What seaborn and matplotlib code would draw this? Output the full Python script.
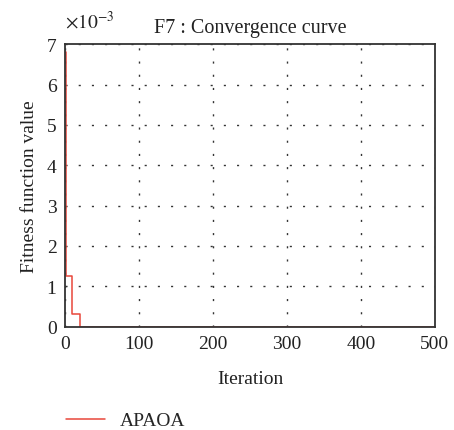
import matplotlib
matplotlib.use("Agg")
import matplotlib.pyplot as plt
import seaborn as sns
import pandas as pd
from matplotlib.ticker import FuncFormatter

iterations = [0, 1, 9, 20, 500]
fitness = [6.8e-3, 1.25e-3, 0.32e-3, 1e-6, 1e-6]
series_name = "APAOA"

df = pd.DataFrame({"Iteration": iterations, "Fitness": fitness, "Algorithm": series_name})

sns.set_theme(style="white")
plt.rcParams['font.family'] = ['Liberation Serif', 'DejaVu Serif']
plt.rcParams['mathtext.fontset'] = 'stix'

fig = plt.figure(figsize=(4.54, 4.31), dpi=100)
ax = fig.add_axes([0.143, 0.240, 0.815, 0.655])

sns.lineplot(data=df, x="Iteration", y="Fitness", hue="Algorithm",
             palette=["#e8473a"], drawstyle="steps-post", linewidth=1.1,
             ax=ax, legend=True)

ax.set_xlim(0, 500)
ax.set_ylim(0, 7e-3)
ax.set_xticks([0, 100, 200, 300, 400, 500])
ax.set_yticks([i * 1e-3 for i in range(8)])
ax.yaxis.set_major_formatter(FuncFormatter(lambda v, p: f"{v * 1e3:.0f}"))
ax.text(0.0, 1.045, r"$\times10^{-3}$", transform=ax.transAxes, fontsize=14,
        color="#222222", ha="left", va="bottom")
ax.tick_params(direction="in", labelsize=14, length=3, colors="#222222", pad=6)
ax.grid(True, linestyle=(0, (1.5, 8)), color="#333333", linewidth=1.0)
for s in ax.spines.values():
    s.set_color("#333333")
    s.set_linewidth(1.3)
ax.set_xlabel("Iteration", fontsize=14, color="#222222", labelpad=13)
ax.set_ylabel("Fitness function value", fontsize=14, color="#222222", labelpad=6)
ax.set_title("F7 : Convergence curve", fontsize=14.5, color="#222222", pad=9)

leg = ax.legend(loc="upper left", bbox_to_anchor=(-0.045, -0.24), frameon=False,
                fontsize=14, handlelength=2.0, handletextpad=0.8)
fig.savefig("out.png", dpi=100)
